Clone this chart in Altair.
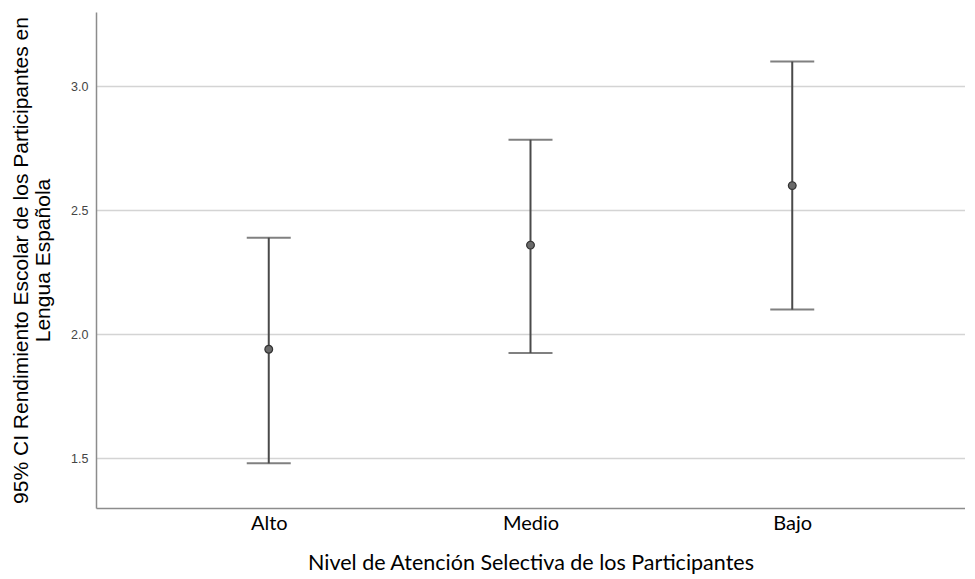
import altair as alt
import pandas as pd

categories = ["Alto", "Medio", "Bajo"]
means = [1.94, 2.36, 2.60]
lower = [1.48, 1.925, 2.10]
upper = [2.39, 2.785, 3.10]

df = pd.DataFrame({"nivel": categories, "mean": means, "lo": lower, "hi": upper})

x = alt.X("nivel:N", sort=categories,
          scale=alt.Scale(type="point", padding=0.66),
          axis=alt.Axis(title="Nivel de Atención Selectiva de los Participantes",
                        labelAngle=0, labelFont="Lato", labelFontSize=20, labelColor="#000",
                        labelPadding=5, titleFont="Lato", titleFontSize=21.5, titleFontWeight="normal",
                        titleColor="#000", titlePadding=19, ticks=False, grid=False,
                        domainColor="#8c8c8c", domainWidth=1.5))

yscale = alt.Scale(domain=[1.3, 3.3], nice=False, zero=False)
yaxis = alt.Axis(title=["95% CI Rendimiento Escolar de los Participantes en", "Lengua Española"],
                 values=[1.5, 2.0, 2.5, 3.0], format=".1f",
                 labelFont="Liberation Sans", labelFontSize=12.5, labelColor="#444",
                 labelPadding=8, ticks=False, grid=True, gridColor="#d4d4d4", gridWidth=1.5,
                 domainColor="#8c8c8c", domainWidth=1.5,
                 titleFont="Liberation Sans", titleFontSize=21, titleFontWeight="normal",
                 titleColor="#000", titlePadding=17, titleLineHeight=22)

base = alt.Chart(df)

rules = base.mark_rule(color="#4a4a4a", strokeWidth=2).encode(
    x=x, y=alt.Y("lo:Q", scale=yscale, axis=yaxis), y2="hi:Q")
caps_lo = base.mark_tick(color="#4a4a4a", thickness=2, size=44).encode(x=x, y=alt.Y("lo:Q", scale=yscale))
caps_hi = base.mark_tick(color="#4a4a4a", thickness=2, size=44).encode(x=x, y=alt.Y("hi:Q", scale=yscale))
points = base.mark_point(filled=True, size=60, color="#6a6a6a", stroke="#333", strokeWidth=1.2, opacity=1).encode(
    x=x, y=alt.Y("mean:Q", scale=yscale))

chart = (rules + caps_lo + caps_hi + points).properties(
    width=869, height=496,
    padding={"left": 2, "top": 4, "right": 0, "bottom": 0}
).configure_view(stroke=None).configure_axis(labelFontWeight="normal")

chart.save("out.html", embed_options={"renderer": "svg", "actions": False})
